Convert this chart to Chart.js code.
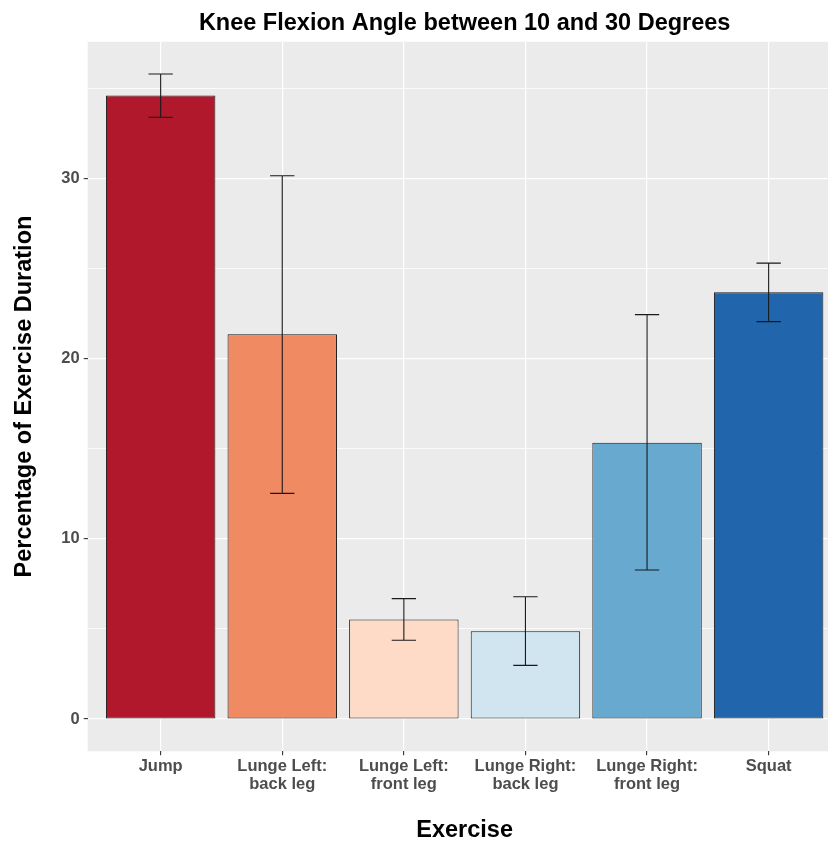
<!DOCTYPE html>
<html>
<head>
<meta charset="utf-8">
<script src="https://cdn.jsdelivr.net/npm/chart.js@4.4.1/dist/chart.umd.min.js"></script>
<style>
html,body{margin:0;padding:0;overflow:hidden;background:#ffffff;}
#wrap{width:850px;height:842px;position:relative;}
canvas{display:block;}
</style>
</head>
<body>
<div id="wrap"><canvas id="c" width="850" height="842"></canvas></div>
<script>
// ---- data ----
const categories = [["Jump"], ["Lunge Left:", "back leg"], ["Lunge Left:", "front leg"], ["Lunge Right:", "back leg"], ["Lunge Right:", "front leg"], ["Squat"]];
const means   = [34.60, 21.35, 5.53, 4.87, 15.33, 23.68];
const errLow  = [33.39, 12.52, 4.37, 2.98, 8.27, 22.05];
const errHigh = [35.79, 30.15, 6.68, 6.79, 22.44, 25.30];
const barColors = ["#B2182B", "#EF8A62", "#FDDBC7", "#D1E5F0", "#67A9CF", "#2166AC"];
const yTickValues = [0, 5, 10, 15, 20, 25, 30, 35];
const yLabelValues = [0, 10, 20, 30];
const titleText = "Knee Flexion Angle between 10 and 30 Degrees";
const xTitle = "Exercise";
const yTitle = "Percentage of Exercise Duration";

const FONT = "'Liberation Sans', Arial, sans-serif";
const yTop = Math.max(...errHigh);
const yPad = yTop * 0.05;

const bgPlugin = {
  id: 'panelBg',
  beforeDraw(chart) {
    const {ctx, chartArea: a} = chart;
    ctx.save();
    ctx.fillStyle = '#ffffff';
    ctx.fillRect(0, 0, chart.width, chart.height);
    ctx.fillStyle = '#EBEBEB';
    ctx.fillRect(a.left, a.top, a.right - a.left, a.bottom - a.top);
    ctx.restore();
  }
};

const errPlugin = {
  id: 'errBars',
  afterDatasetsDraw(chart) {
    const {ctx} = chart;
    const xs = chart.scales.x, ys = chart.scales.y;
    const half = xs.getPixelForValue(1.1) - xs.getPixelForValue(1);
    ctx.save();
    ctx.strokeStyle = '#1a1a1a';
    ctx.lineWidth = 1.1;
    for (let i = 0; i < means.length; i++) {
      const x = xs.getPixelForValue(i + 1);
      const yl = ys.getPixelForValue(errLow[i]);
      const yh = ys.getPixelForValue(errHigh[i]);
      ctx.beginPath();
      ctx.moveTo(x, yl); ctx.lineTo(x, yh);
      ctx.moveTo(x - half, yl); ctx.lineTo(x + half, yl);
      ctx.moveTo(x - half, yh); ctx.lineTo(x + half, yh);
      ctx.stroke();
    }
    ctx.restore();
  }
};

const titlePlugin = {
  id: 'mainTitle',
  afterDraw(chart) {
    const {ctx, chartArea: a} = chart;
    ctx.save();
    ctx.font = "bold 23.5px " + FONT;
    ctx.fillStyle = '#000000';
    ctx.textAlign = 'center';
    ctx.textBaseline = 'middle';
    ctx.fillText(titleText, (a.left + a.right) / 2, 24);
    ctx.restore();
  }
};

new Chart(document.getElementById('c'), {
  type: 'bar',
  data: {
    datasets: [{
      data: means.map((v, i) => ({x: i + 1, y: v})),
      backgroundColor: barColors,
      borderColor: '#1a1a1a',
      borderWidth: 1,
      borderSkipped: false,
      barPercentage: 0.9,
      categoryPercentage: 1.0
    }]
  },
  options: {
    responsive: false,
    animation: false,
    devicePixelRatio: 1,
    layout: {padding: {left: 0, top: 41.8, right: 850 - 841.6, bottom: 0}},
    plugins: {legend: {display: false}, tooltip: {enabled: false}, title: {display: false}},
    scales: {
      x: {
        type: 'linear',
        offset: false,
        min: 0.4,
        max: 6.6,
        afterBuildTicks(scale) { scale.ticks = categories.map((c, i) => ({value: i + 1})); },
        afterFit(scale) { scale.height = 842 - 751.3; },
        border: {display: false},
        grid: {offset: false, color: '#FFFFFF', lineWidth: 1.2, tickColor: '#333333', tickLength: 4, tickWidth: 1.1, drawTicks: true},
        ticks: {
          autoSkip: false, maxRotation: 0, minRotation: 0, padding: 2,
          color: '#4D4D4D',
          font: {family: FONT, size: 16.5, weight: 'bold', lineHeight: 1.1},
          callback: (v) => categories[Math.round(v) - 1] || ''
        },
        title: {display: true, text: xTitle, color: '#000000',
          font: {family: FONT, size: 23.5, weight: 'bold', lineHeight: 1}, padding: {top: 0, bottom: 0}}
      },
      y: {
        type: 'linear',
        min: -yPad,
        max: yTop + yPad,
        afterBuildTicks(scale) { scale.ticks = yTickValues.map(v => ({value: v})); },
        afterFit(scale) { scale.width = 87.7; },
        border: {display: false},
        grid: {
          color: '#FFFFFF',
          lineWidth: (c) => (c.tick && yLabelValues.includes(c.tick.value)) ? 1.2 : 0.8,
          tickColor: (c) => (c.tick && yLabelValues.includes(c.tick.value)) ? '#333333' : 'rgba(0,0,0,0)',
          tickLength: 4, tickWidth: 1.1, drawTicks: true
        },
        ticks: {
          autoSkip: false, padding: 4, color: '#4D4D4D',
          font: {family: FONT, size: 16.5, weight: 'bold'},
          callback: (v) => yLabelValues.includes(v) ? String(v) : ''
        },
        title: {display: true, text: yTitle, color: '#000000',
          font: {family: FONT, size: 23.5, weight: 'bold', lineHeight: 1}, padding: {top: 13, bottom: 0}}
      }
    }
  },
  plugins: [bgPlugin, errPlugin, titlePlugin]
});
</script>
</body>
</html>
